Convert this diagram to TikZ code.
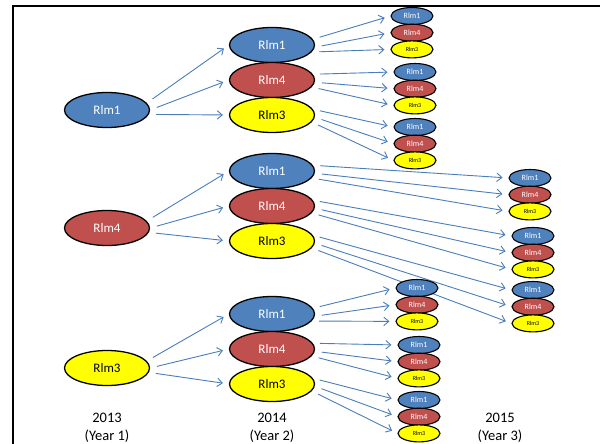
\documentclass[tikz,border=0pt]{standalone}
\usepackage{fontspec}
\setmainfont{Carlito}
\usepackage{tikz}
\usetikzlibrary{shapes.geometric}
\usetikzlibrary{arrows.meta}
\definecolor{rblue}{HTML}{4F81BD}
\definecolor{rred}{HTML}{C0504D}
\definecolor{ryellow}{HTML}{FFFF00}
\definecolor{rline}{HTML}{4A7EBB}
\tikzstyle{big}=[ellipse,draw=black,line width=1.3pt,inner sep=0pt,minimum width=85pt,minimum height=35pt,font=\fontsize{13}{13}\selectfont]
\tikzstyle{small}=[ellipse,draw=black,line width=1.1pt,inner sep=0pt,minimum width=42pt,minimum height=17pt,font=\fontsize{8}{8}\selectfont]
\tikzstyle{R1}=[big,fill=rblue,text=white]
\tikzstyle{R4}=[big,fill=rred,text=white]
\tikzstyle{R3}=[big,fill=ryellow,text=black]
\tikzstyle{r1}=[small,fill=rblue,text=white]
\tikzstyle{r4}=[small,fill=rred,text=white]
\tikzstyle{r3}=[small,fill=ryellow,text=black,font=\fontsize{6}{6}\selectfont]
\tikzstyle{arrow}=[-{Straight Barb[length=5pt,width=8.5pt]},draw=rline,line width=0.9pt,shorten <=7pt,shorten >=6pt]
\tikzstyle{year}=[align=center,font=\fontsize{14.5}{18}\selectfont]
% three offspring of one 2014 node: name, x, y of top, parent
\newcommand \kids [4] {
  \node[r1] at (#2,#3) (#1a) {Rlm1};
  \node[r4] at (#2,#3+16.7) (#1b) {Rlm4};
  \node[r3] at (#2,#3+33.4) (#1c) {Rlm3};
  \draw[arrow] (#4.8) -- (#1a.west);
  \draw[arrow] (#4.-3) -- (#1b.west);
  \draw[arrow] (#4.-10) -- (#1c.west);
}

\begin{document}
\begin{tikzpicture}[x=1pt,y=-1pt]
        \useasboundingbox (0,0) rectangle (600,444);
        \draw[line width=2.2pt] (13,450) -- (13,6) -- (606,6);
        % 2013
        \node[R1] at (107,110) (a1) {Rlm1};
        \node[R4] at (107,228) (a4) {Rlm4};
        \node[R3] at (107,368) (a3) {Rlm3};
        % 2014
        \node[R1] at (272,45) (b11) {Rlm1};
        \node[R4] at (272,80) (b14) {Rlm4};
        \node[R3] at (272,115) (b13) {Rlm3};
        \node[R1] at (272,171) (b41) {Rlm1};
        \node[R4] at (272,206) (b44) {Rlm4};
        \node[R3] at (272,241) (b43) {Rlm3};
        \node[R1] at (272,314) (b31) {Rlm1};
        \node[R4] at (272,349) (b34) {Rlm4};
        \node[R3] at (272,384) (b33) {Rlm3};
        \draw[arrow] (a1.10) -- (b11.west);
        \draw[arrow] (a1.0) -- (b14.west);
        \draw[arrow] (a1.-6) -- (b13.west);
        \draw[arrow] (a4.10) -- (b41.west);
        \draw[arrow] (a4.0) -- (b44.west);
        \draw[arrow] (a4.-6) -- (b43.west);
        \draw[arrow] (a3.10) -- (b31.west);
        \draw[arrow] (a3.0) -- (b34.west);
        \draw[arrow] (a3.-6) -- (b33.west);
        % 2015
        \kids{c11}{412}{16}{b11}
        \kids{c14}{415}{72}{b14}
        \kids{c13}{415}{127}{b13}
        \kids{c41}{530}{178}{b41}
        \kids{c44}{533}{236}{b44}
        \kids{c43}{533}{290}{b43}
        \kids{c31}{417}{288}{b31}
        \kids{c34}{419}{345}{b34}
        \kids{c33}{419}{400}{b33}
        % years
        \node[year] at (107,428) (y1) {2013\\(Year 1)};
        \node[year] at (272,428) (y2) {2014\\(Year 2)};
        \node[year] at (500,428) (y3) {2015\\(Year 3)};
      \end{tikzpicture}
\end{document}
